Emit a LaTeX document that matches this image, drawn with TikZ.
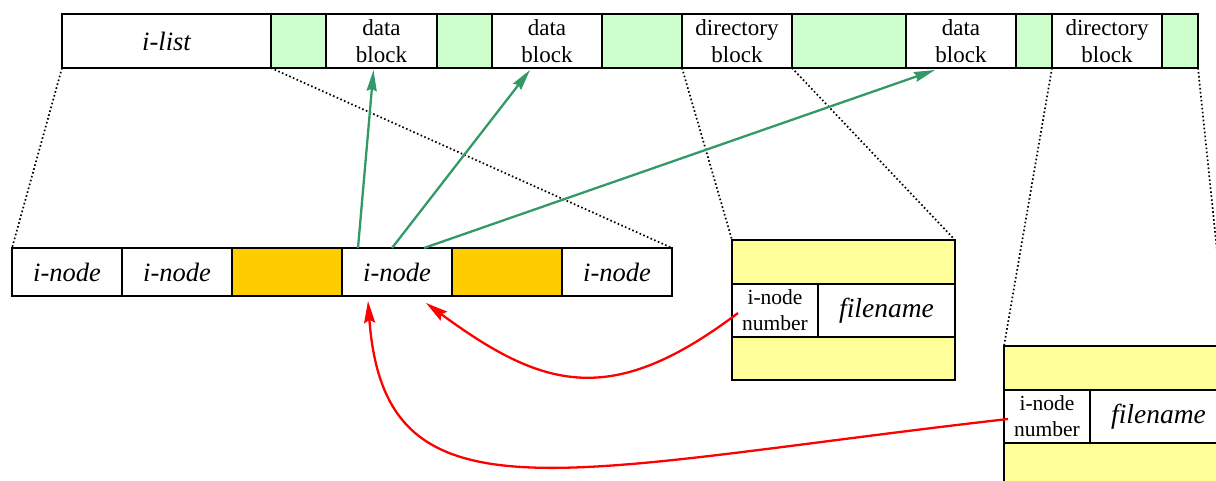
\documentclass[tikz,border=0pt]{standalone}
\usepackage{fontspec}
\setmainfont{Liberation Serif}
\usepackage{tikz}
\usetikzlibrary{positioning, arrows.meta}
\definecolor{FreeGreen}{RGB}{204,255,204}
\definecolor{InodeOrange}{RGB}{255,204,0}
\definecolor{DirYellow}{RGB}{255,255,153}
\definecolor{PtrGreen}{RGB}{51,153,102}

\begin{document}
\begin{tikzpicture}[x=1pt, y=-1pt]
  \tikzstyle{blk}=[draw, line width=1.3pt, fill=white, inner sep=0pt, outer sep=0pt, minimum height=54pt, align=center, font=\fontsize{23}{27}\selectfont]
  \tikzstyle{freeblk}=[blk, fill=FreeGreen]
  \tikzstyle{icell}=[blk, minimum width=110pt, minimum height=48pt, font=\fontsize{26.5}{30}\selectfont\itshape]
  \tikzstyle{usedcell}=[icell, fill=InodeOrange]
  \tikzstyle{dirslot}=[blk, fill=DirYellow, minimum width=223pt, minimum height=44pt]
  \tikzstyle{zoomline}=[line width=1.7pt, dash pattern=on 1.6pt off 2.4pt]
  \tikzstyle{ptr}=[draw=PtrGreen, line width=2.3pt, -{Stealth[length=21pt, width=10pt, inset=2pt]}]
  \tikzstyle{lookup}=[draw=red, line width=2.3pt, -{Stealth[length=22pt, width=11pt, inset=3pt]}]

  \useasboundingbox (0,0) rectangle (1216,480);
  \clip (0,0) rectangle (1216,480);

  % disk layout
  \node (ilist) at (62,14) [blk, anchor=north west, minimum width=209pt, font=\fontsize{26.5}{30}\selectfont\itshape] {i-list};
  \node (free1) [freeblk, minimum width=55pt, right=0pt of ilist] {};
  \node (data1) [blk, minimum width=111pt, right=0pt of free1] {data\\block};
  \node (free2) [freeblk, minimum width=55pt, right=0pt of data1] {};
  \node (data2) [blk, minimum width=110pt, right=0pt of free2] {data\\block};
  \node (free3) [freeblk, minimum width=80pt, right=0pt of data2] {};
  \node (dir1) [blk, minimum width=110pt, right=0pt of free3] {directory\\block};
  \node (free4) [freeblk, minimum width=114pt, right=0pt of dir1] {};
  \node (data3) [blk, minimum width=110pt, right=0pt of free4] {data\\block};
  \node (free5) [freeblk, minimum width=36pt, right=0pt of data3] {};
  \node (dir2) [blk, minimum width=110pt, right=0pt of free5] {directory\\block};
  \node (free6) [freeblk, minimum width=36pt, right=0pt of dir2] {};

  % i-list, zoomed
  \foreach \i/\kind/\txt in {1/icell/i-node, 2/icell/i-node, 3/usedcell/{}, 4/icell/i-node, 5/usedcell/{}, 6/icell/i-node} {
    \node (inode\i) at (110*\i-43, 272) [\kind] {\txt};
  }

  % directory blocks, zoomed
  \foreach \d/\x/\y in {1/732/240, 2/1004/346} {
    \begin{scope}[shift={(\x,\y)}]
      \node (top\d) at (0,0) [dirslot, anchor=north west] {};
      \node (num\d) at (top\d.south west) [blk, anchor=north west, minimum width=86pt, minimum height=53pt, font=\fontsize{21.5}{26}\selectfont] {i-node\\number};
      \node (name\d) at (num\d.north east) [blk, anchor=north west, minimum width=137pt, minimum height=53pt, font=\fontsize{27.5}{30}\selectfont\itshape] {filename};
      \node (bot\d) at (num\d.south west) [dirslot, anchor=north west, minimum height=43pt] {};
    \end{scope}
  }

  % zoom lines
  \draw[zoomline] (ilist.south west) -- (inode1.north west);
  \draw[zoomline] (ilist.south east) -- (inode6.north east);
  \draw[zoomline] (dir1.south west) -- (top1.north west);
  \draw[zoomline] (dir1.south east) -- (top1.north east);
  \draw[zoomline] (dir2.south west) -- (top2.north west);
  \draw[zoomline] (free6.south east) -- (top2.north east);

  % block pointers
  \draw[ptr] ([xshift=-39pt]inode4.north) -- ([xshift=-8pt, yshift=-2pt]data1.south);
  \draw[ptr] ([xshift=-5pt]inode4.north) -- ([xshift=-17pt, yshift=-2pt]data2.south);
  \draw[ptr] ([xshift=27pt]inode4.north) -- ([xshift=-26pt, yshift=-2pt]data3.south);

  % directory entries
  \draw[lookup] ([xshift=-37pt, yshift=-2.5pt]num1.center) .. controls (611,409) and (543,389) .. ([xshift=29pt, yshift=-7pt]inode4.south);
  \draw[lookup] ([xshift=-39pt, yshift=-2.5pt]num2.center) .. controls (560,470) and (385,530) .. ([xshift=-29pt, yshift=-5pt]inode4.south);
\end{tikzpicture}
\end{document}
